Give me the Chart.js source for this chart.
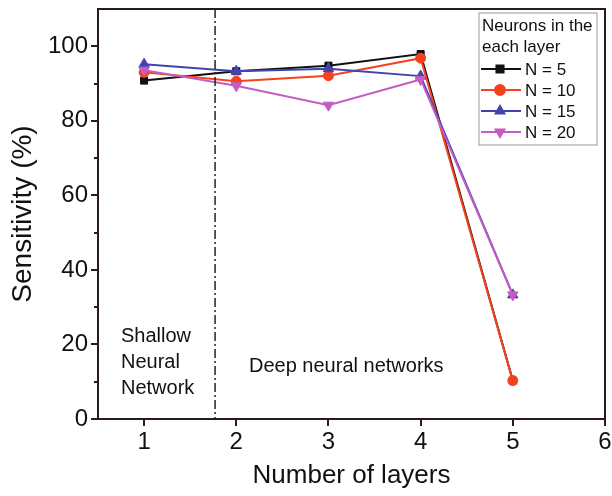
<!DOCTYPE html>
<html>
<head>
<meta charset="utf-8">
<script src="https://cdn.jsdelivr.net/npm/chart.js@4"></script>
<style>
  html, body { margin: 0; padding: 0; background: #fff; }
  #wrap { width: 612px; height: 496px; }
</style>
</head>
<body>
<div id="wrap"><canvas id="c" width="612" height="496"></canvas></div>
<script>
'use strict';

// layers on the x axis
let layers = [1, 2, 3, 4, 5];
let xTicks = [1, 2, 3, 4, 5, 6];

// sensitivity (%) per number of neurons in each layer
let n5 = [90.8, 93.3, 94.8, 97.9, 10.3];
let n10 = [93.0, 90.6, 92.1, 96.8, 10.3];
let n15 = [95.2, 93.3, 94.0, 92.0, 33.3];
let n20 = [93.6, 89.4, 84.2, 91.1, 33.3];

let seriesNames = ['N = 5', 'N = 10', 'N = 15', 'N = 20'];
let colors = ['#111111', '#f5421e', '#4343b0', '#c45cc4'];
let markers = ['rect', 'circle', 'triangle', 'triangle'];
let rotations = [0, 0, 0, 180];

let boundary = 1.77; // shallow / deep divider

let pts = (vals) => vals.map((v, i) => ({x: layers[i], y: v}));

let datasets = [n5, n10, n15, n20].map((vals, i) => ({
	label: seriesNames[i],
	data: pts(vals),
	order: 4 - i,
	borderColor: colors[i],
	backgroundColor: colors[i],
	borderWidth: 2,
	pointStyle: markers[i],
	pointRotation: rotations[i],
	pointRadius: markers[i] === 'triangle' ? 6 : 5,
	pointBorderWidth: 1,
	tension: 0
}));

let font = '"Liberation Sans", Arial, sans-serif';
let axisColor = '#2a1d17';

let decor = {
	id: 'decor',
	afterDatasetsDraw(chart) {
		let ctx = chart.ctx;
		let a = chart.chartArea;
		let xs = chart.scales.x;
		let ys = chart.scales.y;
		ctx.save();
		// frame
		ctx.strokeStyle = axisColor;
		ctx.lineWidth = 2;
		ctx.strokeRect(a.left, a.top, a.right - a.left, a.bottom - a.top);
		// minor y ticks are shorter
		ctx.fillStyle = '#fff';
		ys.ticks.forEach((t) => {
			if (t.value % 20 !== 0) {
				let py = ys.getPixelForValue(t.value);
				ctx.fillRect(a.left - 8, py - 2, 4, 4);
			}
		});
		// divider
		let bx = xs.getPixelForValue(boundary);
		ctx.setLineDash([9, 3, 2, 3]);
		ctx.lineWidth = 1.5;
		ctx.strokeStyle = '#222';
		ctx.beginPath();
		ctx.moveTo(bx, a.top);
		ctx.lineTo(bx, a.bottom);
		ctx.stroke();
		ctx.setLineDash([]);
		// annotations
		ctx.fillStyle = '#111';
		ctx.font = '20px ' + font;
		ctx.textBaseline = 'middle';
		ctx.textAlign = 'left';
		ctx.fillText('Shallow', 121, 336);
		ctx.fillText('Neural', 121, 362);
		ctx.fillText('Network', 121, 388);
		ctx.fillText('Deep neural networks', 249, 366);
		// legend
		let lx = 479, ly = 13, lw = 118, lh = 132;
		ctx.fillStyle = '#fff';
		ctx.fillRect(lx, ly, lw, lh);
		ctx.strokeStyle = '#999';
		ctx.lineWidth = 1;
		ctx.strokeRect(lx, ly, lw, lh);
		ctx.fillStyle = '#111';
		ctx.font = '17px ' + font;
		ctx.fillText('Neurons in the', lx + 3, ly + 13);
		ctx.fillText('each layer', lx + 3, ly + 34);
		chart.data.datasets.forEach((ds, i) => {
			let y = ly + 56 + i * 21;
			ctx.strokeStyle = ds.borderColor;
			ctx.lineWidth = 2;
			ctx.beginPath();
			ctx.moveTo(lx + 2, y);
			ctx.lineTo(lx + 42, y);
			ctx.stroke();
			ctx.fillStyle = ds.backgroundColor;
			Chart.helpers.drawPoint(ctx, {
				pointStyle: ds.pointStyle,
				rotation: ds.pointRotation,
				radius: 5,
				borderWidth: 1
			}, lx + 21, y);
			ctx.fillStyle = '#111';
			ctx.font = '17px ' + font;
			ctx.fillText(ds.label, lx + 46, y + 1);
		});
		ctx.restore();
	}
};

new Chart(document.getElementById('c'), {
	type: 'line',
	data: {datasets: datasets},
	plugins: [decor],
	options: {
		responsive: false,
		animation: false,
		layout: {padding: {top: 9, right: 6, left: 0, bottom: 0}},
		plugins: {legend: {display: false}, tooltip: {enabled: false}},
		scales: {
			x: {
				type: 'linear',
				min: 0.5,
				max: 6,
				afterBuildTicks: (s) => { s.ticks = xTicks.map((v) => ({value: v})); },
				afterFit: (s) => { s.height = 77; s.paddingLeft = 0; s.paddingRight = 0; },
				grid: {display: true, drawOnChartArea: false, tickLength: 7, color: axisColor, lineWidth: 2},
				border: {color: axisColor, width: 2},
				ticks: {color: '#111', font: {family: font, size: 24}, padding: 2, maxRotation: 0},
				title: {display: true, text: 'Number of layers', color: '#111', font: {family: font, size: 26}, padding: {top: 0, bottom: 5}}
			},
			y: {
				min: 0,
				max: 110,
				afterBuildTicks: (s) => {
					let t = [];
					for (let v = 0; v <= 100; v += 10) t.push({value: v});
					s.ticks = t;
				},
				afterFit: (s) => { s.width = 98; s.paddingTop = 0; s.paddingBottom = 0; },
				grid: {display: true, drawOnChartArea: false, tickLength: 7, color: axisColor, lineWidth: 2},
				border: {color: axisColor, width: 2},
				ticks: {
					color: '#111',
					font: {family: font, size: 24},
					padding: 3,
					callback: (v) => (v % 20 === 0 ? v : '')
				},
				title: {display: true, text: 'Sensitivity (%)', color: '#111', font: {family: font, size: 28}, padding: {top: 6, bottom: 0}}
			}
		}
	}
});
</script>
</body>
</html>
